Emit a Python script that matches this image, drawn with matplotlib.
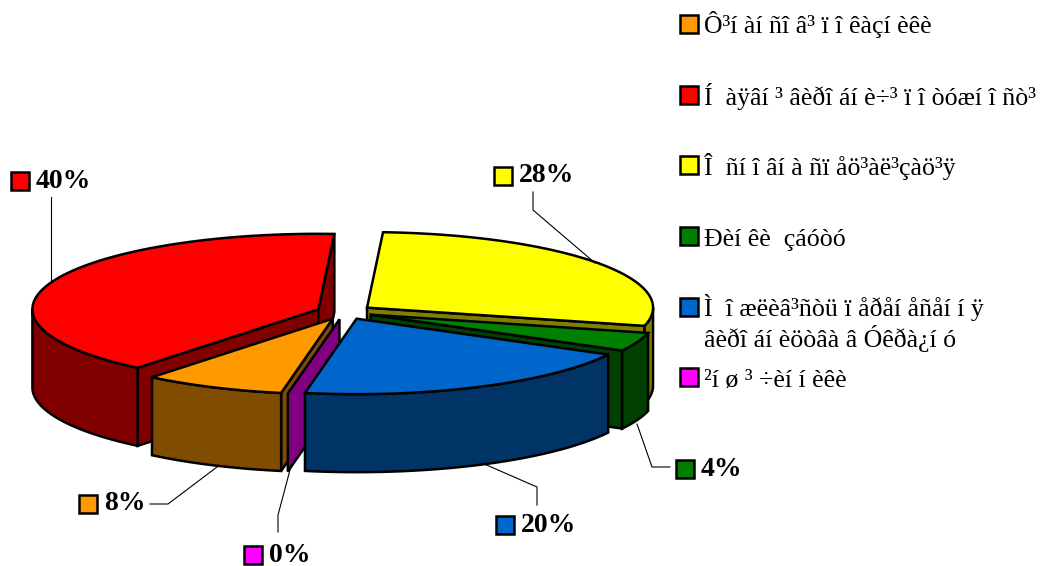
# Exploded 3D-look pie, built from wedges in pixel coordinates
import numpy as np
import matplotlib
matplotlib.use('Agg')
import matplotlib.pyplot as plt
from matplotlib.patches import Polygon, Rectangle

plt.rcParams['font.family'] = ['Liberation Serif', 'DejaVu Serif']

# Data
legend_labels = ['Ô³í àí ñî â³ ï î êàçí èêè',
                 'Í  àÿâí ³ âèðî áí è÷³ ï î òóæí î ñò³',
                 'Î  ñí î âí à ñï åö³àë³çàö³ÿ',
                 'Ðèí êè  çáóòó',
                 'Ì  î æëèâ³ñòü ï åðåí åñåí í ÿ\nâèðî áí èöòâà â Óêðà¿í ó',
                 '²í ø ³ ÷èí í èêè']
values = [8, 40, 28, 4, 20, 0]
top_colors = ['#FF9900', '#FF0000', '#FFFF00', '#008000', '#0066CC', '#FF00FF']
side_colors = ['#804C00', '#800000', '#808000', '#004000', '#003366', '#800080']

# Pie geometry in pixels
cx, cy = 344.5, 312
radius = 286
squash = 0.264
explode = 28
depth = 78
first_angle = 190.4  # clockwise from north
draw_order = [1, 2, 3, 0, 5, 4]

# Label and legend layout
label_pos = [(79, 504), (11, 181), (494, 176), (676, 469), (496, 525), (244, 555)]
leaders = [[(217, 467), (168, 504), (150, 504)],
           [(51, 283), (51, 197)],
           [(595, 263), (533, 210), (533, 192)],
           [(637, 424), (652, 467), (670, 467)],
           [(482, 463), (537, 487), (537, 505)],
           [(290, 470), (278, 515), (278, 532)]]
legend_box_y = [24, 95, 165, 236, 307, 377]
legend_base_y = [33, 105, 175, 246, 316, 387]
legend_line_gap = 31

fig = plt.figure(figsize=(10.4, 5.66), dpi=100)
ax = fig.add_axes([0, 0, 1, 1])
ax.set_xlim(0, 1040)
ax.set_ylim(566, 0)
ax.axis('off')

edge = dict(edgecolor='black', linewidth=1.8, joinstyle='miter')


def point(apex, angle, r=radius):
    a = np.radians(angle)
    return apex[0] + r * np.sin(a), apex[1] - r * np.cos(a) * squash


def arc(apex, a0, a1):
    angles = np.linspace(a0, a1, max(int(a1 - a0) * 2, 2))
    return [point(apex, a) for a in angles]


def drop(points):
    return [(x, y + depth) for x, y in points]


def draw_slice(i, a0, a1):
    # keep the angles in one turn so the rim test works
    if a0 >= 360:
        a0, a1 = a0 - 360, a1 - 360
    mid = np.radians((a0 + a1) / 2)
    apex = (cx + explode * np.sin(mid), cy - explode * np.cos(mid) * squash)
    start, end = point(apex, a0), point(apex, a1)

    # side walls facing the viewer
    if np.sin(np.radians(a0)) < 0:
        wall = [apex, start]
        ax.add_patch(Polygon(wall + drop(wall)[::-1], facecolor=side_colors[i], **edge))
    if np.sin(np.radians(a1)) > 0:
        wall = [apex, end]
        ax.add_patch(Polygon(wall + drop(wall)[::-1], facecolor=side_colors[i], **edge))

    # outer rim, front half only
    r0, r1 = max(a0, 90), min(a1, 270)
    if r1 > r0:
        rim = arc(apex, r0, r1)
        ax.add_patch(Polygon(rim + drop(rim)[::-1], facecolor=side_colors[i], **edge))

    # top face
    if a1 > a0:
        ax.add_patch(Polygon([apex] + arc(apex, a0, a1), facecolor=top_colors[i], **edge))


edges = first_angle + np.concatenate([[0], np.cumsum(values)]) * 3.6
for i in draw_order:
    draw_slice(i, edges[i], edges[i + 1])

# Leader lines
for line in leaders:
    xs, ys = zip(*line)
    ax.plot(xs, ys, color='black', linewidth=0.8, zorder=1)

# Percent labels with colour keys
for i, (x, y) in enumerate(label_pos):
    ax.add_patch(Rectangle((x, y - 9), 18, 18, facecolor=top_colors[i], edgecolor='black', linewidth=1.8))
    ax.text(x + 25, y, f'{values[i]}%', fontsize=20, fontweight='bold', va='center', ha='left')

# Legend
for i, y in enumerate(legend_box_y):
    ax.add_patch(Rectangle((680, y - 9), 18, 18, facecolor=top_colors[i], edgecolor='black', linewidth=1.8))
    for j, part in enumerate(legend_labels[i].split('\n')):
        ax.text(704, legend_base_y[i] + j * legend_line_gap, part, fontsize=18.6, va='baseline', ha='left')

fig.savefig('out.png', dpi=100)
